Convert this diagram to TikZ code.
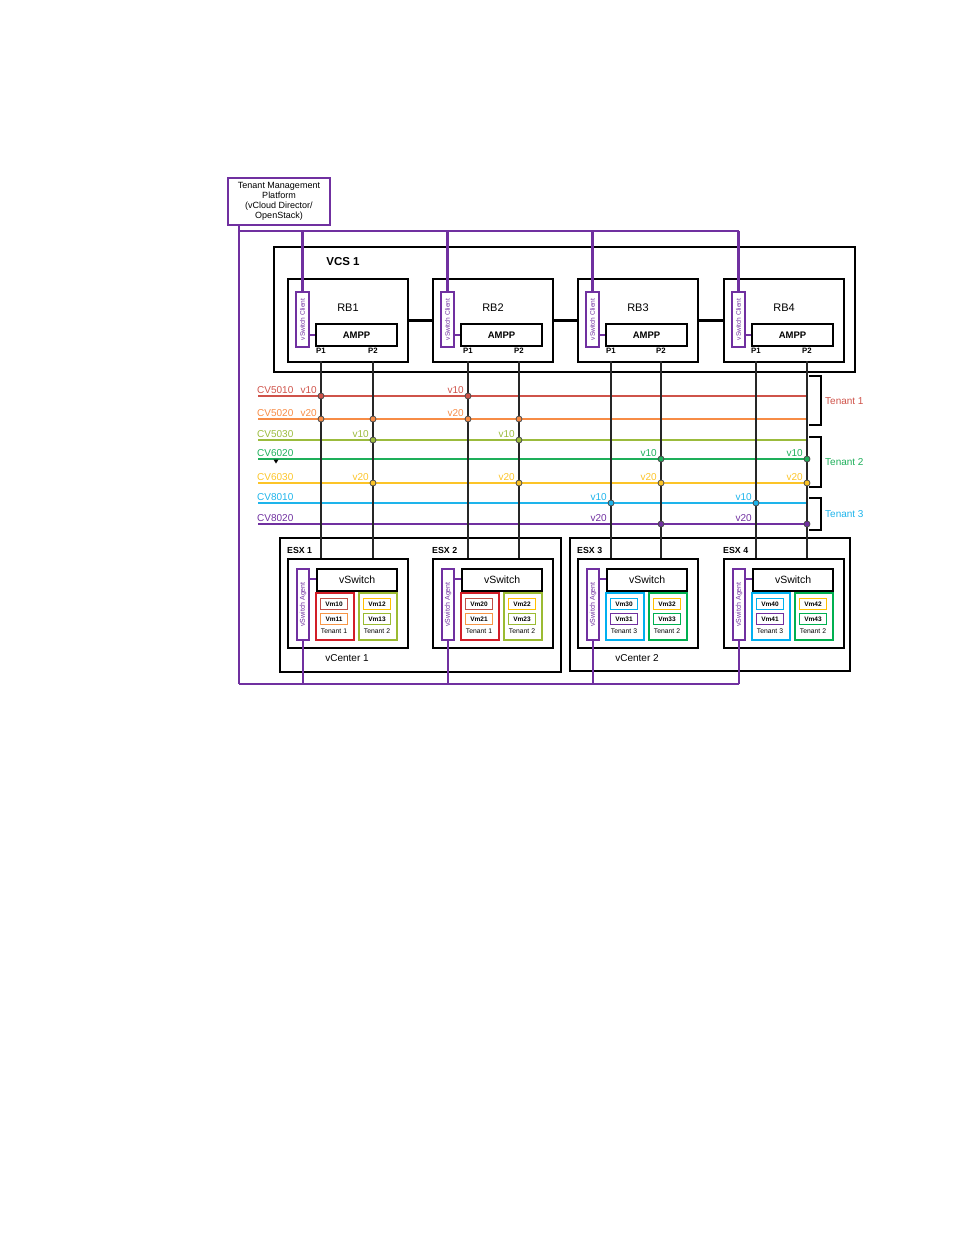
\documentclass[tikz,border=0pt]{standalone}
\usepackage{fontspec}
\setmainfont{Liberation Sans}
\definecolor{vpurple}{RGB}{112,48,160}
\definecolor{cA}{RGB}{207,83,74}
\definecolor{cB}{RGB}{247,140,70}
\definecolor{cC}{RGB}{155,187,60}
\definecolor{cD}{RGB}{30,175,90}
\definecolor{cE}{RGB}{252,196,40}
\definecolor{cF}{RGB}{30,180,235}
\definecolor{cG}{RGB}{112,48,160}
\definecolor{tred}{RGB}{210,30,40}
\definecolor{vmred}{RGB}{192,80,70}
\definecolor{vmorange}{RGB}{247,150,70}
\definecolor{tolive}{RGB}{155,187,50}
\definecolor{vmgold}{RGB}{255,192,0}
\definecolor{tgreen}{RGB}{0,176,80}
\definecolor{tcyan}{RGB}{0,176,240}
\newcommand{\fsz}[1]{\fontsize{#1}{#1}\selectfont}
\begin{document}
\begin{tikzpicture}[x=1pt,y=-1pt,
  box/.style={draw=black, line width=2.2pt, inner sep=0pt, anchor=north west},
  pbox/.style={draw=vpurple, line width=2pt, inner sep=0pt, fill=white, anchor=north west},
  pline/.style={draw=vpurple, line width=2.2pt},
  port/.style={draw=black!85, line width=1.5pt},
  vl/.style={line width=1.6pt},
  dot/.style={circle, draw=black!70, line width=0.8pt, inner sep=0pt, minimum size=6pt},
  vlab/.style={anchor=base east, inner sep=0pt, font=\fsz{10}},
  tbox/.style={draw, line width=2pt, inner sep=0pt, anchor=north west, minimum width=38pt, minimum height=47pt},
  vmbox/.style={draw, line width=1.9pt, inner sep=0pt, minimum width=27pt, minimum height=11pt, font=\bfseries\fsz{6.5}},
  txt/.style={inner sep=0pt}
]
\useasboundingbox (0,0) rectangle (954,1235);

% Tenant management platform
\node[draw=vpurple, line width=2pt, minimum width=102pt, minimum height=47pt, inner sep=0pt,
  align=center, font=\fontsize{9}{10}\selectfont] (tmp) at (279,201.5)
  {Tenant Management\\Platform\\(vCloud Director/\\OpenStack)};
\coordinate (tl) at (239,231);
\coordinate (bl) at (239,684);

% VCS box
\node[box, minimum width=581pt, minimum height=125pt] (vcs) at (273,246) {};
\node[txt, font=\bfseries\fsz{11.5}] (vcsl) at (343,262) {VCS 1};

% RBridges
\foreach \i/\L in {1/287,2/432,3/577,4/723} {
  \node[box, minimum width=120pt, minimum height=83pt] (rb\i) at (\L,278) {};
  \node[txt, font=\fsz{11}] (rbl\i) at (\L+61,308) {RB\i};
  \node[box, minimum width=81pt, minimum height=22pt] (ampp\i) at (\L+28,323) {};
  \node[txt, font=\bfseries\fsz{9.5}] (amppl\i) at (ampp\i.center) {AMPP};
  \node[pbox, minimum width=13pt, minimum height=55pt] (cl\i) at (\L+8,291) {};
  \node[txt, rotate=90, font=\fsz{6.6}, text=vpurple] (clt\i) at (cl\i.center) {vSwitch Client};
  \draw[pline] (cl\i.east |- ampp\i.west) -- (ampp\i.west);
}
\draw[pline] (tmp.south -| tl) -- (bl);
\draw[pline] (tl) -- (cl4.north |- tl);
\foreach \i in {1,2,3,4} { \draw[pline] (cl\i.north |- tl) -- (cl\i.north); }
\draw[line width=2.4pt] (rb1.east) -- (rb2.west);
\draw[line width=2.4pt] (rb2.east) -- (rb3.west);
\draw[line width=2.4pt] (rb3.east) -- (rb4.west);

% vCenters and ESX hosts
\node[box, minimum width=281pt, minimum height=134pt] (vc1) at (279,537) {};
\node[box, minimum width=280pt, minimum height=133pt] (vc2) at (569,537) {};
\node[txt, font=\fsz{10}] (vc1l) at (347,658) {vCenter 1};
\node[txt, font=\fsz{10}] (vc2l) at (637,658) {vCenter 2};

\foreach \i/\L/\ta/\ca/\cb/\nta/\tb/\cc/\cd in {
   1/287/tred/vmred/vmorange/1/tolive/vmgold/tolive,
   2/432/tred/vmred/vmorange/1/tolive/vmgold/tolive,
   3/577/tcyan/tcyan/vpurple/3/tgreen/vmgold/tgreen,
   4/723/tcyan/tcyan/vpurple/3/tgreen/vmgold/tgreen} {
  \node[box, minimum width=120pt, minimum height=89pt] (esx\i) at (\L,558) {};
  \node[txt, anchor=west, font=\bfseries\fsz{8.8}] (esxl\i) at (\L,550) {ESX \i};
  \node[box, minimum width=80pt, minimum height=22pt] (vs\i) at (\L+29,568) {};
  \node[txt, font=\fsz{10.5}] (vsl\i) at (vs\i.center) {vSwitch};
  \node[pbox, minimum width=12pt, minimum height=71pt] (ag\i) at (\L+9,568) {};
  \node[txt, rotate=90, font=\fsz{7}, text=vpurple] (agt\i) at (ag\i.center) {vSwitch Agent};
  \draw[pline] (ag\i.east |- 0,579) -- (vs\i.west |- 0,579);
  \node[tbox, draw=\ta] (ta\i) at (\L+28,592) {};
  \node[tbox, draw=\tb] (tb\i) at (\L+71,592) {};
  \node[vmbox, draw=\ca] (va\i) at (\L+47,604) {Vm\i0};
  \node[vmbox, draw=\cb] (vb\i) at (\L+47,619) {Vm\i1};
  \node[vmbox, draw=\cc] (vc\i) at (\L+90,604) {Vm\i2};
  \node[vmbox, draw=\cd] (vd\i) at (\L+90,619) {Vm\i3};
  \node[txt, font=\fsz{6.8}] (tal\i) at (\L+47,631.5) {Tenant \nta};
  \node[txt, font=\fsz{6.8}] (tbl\i) at (\L+90,631.5) {Tenant 2};
}
\draw[pline] (bl) -- (ag4.south |- bl);
\foreach \i in {1,2,3,4} { \draw[pline] (ag\i.south) -- (ag\i.south |- bl); }

% VLAN lines
\foreach \n/\y/\c in {5010/396/cA,5020/419/cB,5030/440/cC,6020/459/cD,6030/483/cE,8010/503/cF,8020/524/cG} {
  \coordinate (s\n) at (258,\y);
  \coordinate (e\n) at (807,\y);
  \draw[vl, draw=\c] (s\n) -- (e\n);
  \node[txt, anchor=base west, font=\fsz{10}, text=\c] (l\n) at (257,\y-3) {CV\n};
}
\fill[black] (273.5,459.5) -- (278.5,459.5) -- (276,463.5) -- cycle;

% port lines
\foreach \i/\a/\b in {1/321/373,2/468/519,3/611/661,4/756/807} {
  \coordinate (pa\i) at (\a,361);
  \coordinate (pb\i) at (\b,361);
  \node[txt, font=\bfseries\fsz{7.8}] (pal\i) at (\a,351) {P1};
  \node[txt, font=\bfseries\fsz{7.8}] (pbl\i) at (\b,351) {P2};
  \draw[port] (pa\i) -- (pa\i |- esx\i.north);
  \draw[port] (pb\i) -- (pb\i |- esx\i.north);
}

% dots
\foreach \x/\y/\c in {321/396/cA,468/396/cA,
  321/419/cB,373/419/cB,468/419/cB,519/419/cB,
  373/440/cC,519/440/cC,
  661/459/cD,807/459/cD,
  373/483/cE,519/483/cE,661/483/cE,807/483/cE,
  611/503/cF,756/503/cF,
  661/524/cG,807/524/cG} {
  \node[dot, fill=\c] at (\x,\y) {};
}
% vlan labels
\foreach \x/\y/\c/\t in {321/396/cA/v10,468/396/cA/v10,
  321/419/cB/v20,468/419/cB/v20,
  373/440/cC/v10,519/440/cC/v10,
  661/459/cD/v10,807/459/cD/v10,
  373/483/cE/v20,519/483/cE/v20,661/483/cE/v20,807/483/cE/v20,
  611/503/cF/v10,756/503/cF/v10,
  611/524/cG/v20,756/524/cG/v20} {
  \node[vlab, text=\c] at (\x-4,\y-3) {\t};
}

% tenant brackets
\draw[line width=1.4pt] (809,376) -- (821,376) -- (821,425) -- (809,425);
\draw[line width=1.4pt] (809,437) -- (821,437) -- (821,487) -- (809,487);
\draw[line width=1.4pt] (809,498) -- (821,498) -- (821,530) -- (809,530);
\node[txt, anchor=west, font=\fsz{10}, text=cA] (t1) at (825,401) {Tenant 1};
\node[txt, anchor=west, font=\fsz{10}, text=cD] (t2) at (825,462) {Tenant 2};
\node[txt, anchor=west, font=\fsz{10}, text=cF] (t3) at (825,514) {Tenant 3};
\end{tikzpicture}
\end{document}
